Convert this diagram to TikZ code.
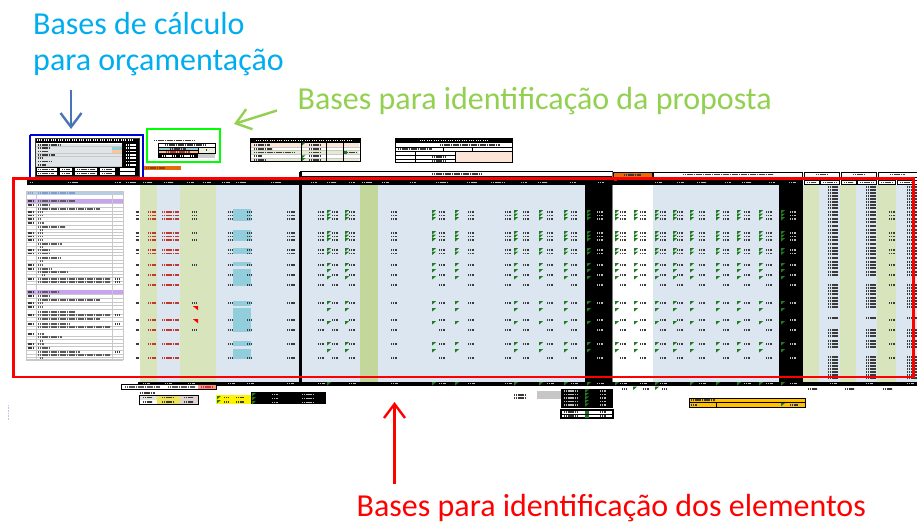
\documentclass[tikz,border=0pt]{standalone}
\usepackage{fontspec}
\setmainfont{Carlito}
\usetikzlibrary{arrows.meta}
\definecolor{tblue}{HTML}{00AEEF}
\definecolor{tgreen}{HTML}{92D050}
\definecolor{tred}{HTML}{FF0000}
\definecolor{ablue}{HTML}{4A74B8}
\definecolor{lgreen}{HTML}{D8E4BC}
\definecolor{dgreen}{HTML}{C4D79B}
\definecolor{lblue}{HTML}{DCE6F1}
\definecolor{cyanbox}{HTML}{92CDDC}
\definecolor{purp}{HTML}{C9A3F0}
\definecolor{hblue}{HTML}{B8CCE4}
\definecolor{peach}{HTML}{FCE4D6}
\definecolor{orng}{HTML}{E46C0A}
\definecolor{gold}{HTML}{FFC000}
\definecolor{mkc}{HTML}{3A3A3A}
\definecolor{txc}{HTML}{5A5A5A}
\definecolor{redmk}{HTML}{C0392B}
\definecolor{flagc}{HTML}{1E7B1E}
\definecolor{gridc}{HTML}{C8C8C8}
\definecolor{paleg}{HTML}{EBF1DE}
\definecolor{hdrmk}{HTML}{BBBBBB}
\begin{document}
\begin{tikzpicture}[x=1pt,y=-1pt,
  lbl/.style={anchor=base west,inner sep=0pt,font=\fontsize{32}{36}\selectfont},
  arr/.style={line width=2.4pt,-{Straight Barb[length=14pt,width=21pt]}},
  txt/.style={line width=1.7pt,dash pattern=on 1.3pt off 0.5pt},
  cell/.style={draw=black,line width=0.8pt},
  flagmark/.style={fill=flagc},
]
\useasboundingbox (0,0) rectangle (917,524);
\fill[white] (0,0) rectangle (917,524);

% ================= annotation labels =================
\node[lbl,text=tblue] (lcalc1) at (33,34.3) {Bases de cálculo};
\node[lbl,text=tblue] (lcalc2) at (33,70.7) {para orçamentação};
\node[lbl,text=tgreen] (lprop) at (297.5,110) {Bases para identificação da proposta};
\node[lbl,text=tred] (lelem) at (356.5,516.5) {Bases para identificação dos elementos};

% ================= small top tables =================
% budget base table (blue box)
\fill[white] (35,138) rectangle (139,176);
\fill[black] (35,138) rectangle (139,142.5);
\foreach \x in {37,44,...,132} \draw[txt,white] (\x,140.2) -- ++(5,0);
\foreach \y in {145,148.3,151.6,154.9,158.2,161.5,164.8} {
  \fill[lblue!80!gray!60] (36,\y-1.4) rectangle (122,\y+1.4);
  \draw[gridc,line width=0.4pt] (36,\y+1.6) -- (122,\y+1.6);
}
\foreach \y/\b in {145/60,148.3/50,151.6/48,154.9/55,158.2/42,161.5/52,164.8/46} \draw[txt,mkc] (38,\y) -- (\b,\y);
\fill[cyanbox] (112,147) rectangle (122,149.6);
\fill[peach!70!orange] (112,150.3) rectangle (122,152.9);
\fill[black] (122,142.5) rectangle (139,167);
\foreach \y in {145,148.3,151.6,154.9,158.2,161.5,164.8} \draw[txt,white] (126,\y) -- ++(10,0);
\fill[black] (35,167) rectangle (139,176);
\foreach \x/\w in {37/20,60/12,75/22,100/15,120/15} {\fill[white] (\x,168.2) rectangle ++(\w,2.6); \fill[white] (\x,172.2) rectangle ++(\w,2.6);}
\foreach \x/\w in {38/16,62/8,77/18,102/10} {\draw[txt,mkc] (\x,169.5) -- ++(\w,0); \draw[txt,mkc] (\x,173.5) -- ++(\w,0);}
\draw[mkc,line width=0.6pt] (35,138) rectangle (139,176);

% proposal identification table (green box)
\draw[txt,mkc] (154,140.5) -- (194,140.5);
\draw[cell,fill=white] (158,143) rectangle (215,147);
\draw[txt,mkc] (165,145) -- (205,145);
\draw[cell,fill=cyanbox] (158,147.5) rectangle (198,150.7);
\draw[txt,mkc] (170,149.1) -- (186,149.1);
\draw[cell,fill=peach!60!orange] (158,150.7) rectangle (198,153.5);
\draw[txt,redmk] (166,152.1) -- (190,152.1);
\draw[cell,fill=paleg] (198,147.5) rectangle (215,153.5);
\draw[txt,mkc] (206,150) -- ++(1.5,0);
\fill[black] (158,154) rectangle (198,158);
\draw[txt,white] (162,156) -- (175,156);
\draw[txt,white] (180,156) -- (194,156);
\fill[gray!40] (198,154) rectangle (215,158);

% cost table
\fill[white] (250,138.5) rectangle (360,161.5);
\fill[black] (250,138.5) rectangle (360,142.8);
\foreach \x in {256,263,...,352} \draw[txt,white] (\x,140.6) -- ++(5,0);
\fill[peach] (251,143) rectangle (359,146.8);
\fill[lgreen!70] (251,150.6) rectangle (359,154.4);
\fill[lgreen!70] (251,158) rectangle (359,161.5);
\foreach \y in {146.8,150.6,154.4,158} \draw[gridc,line width=0.5pt] (250,\y) -- (360,\y);
\foreach \x in {301,326,343} \draw[black,line width=0.8pt] (\x,142.8) -- (\x,161.5);
\foreach \y/\b in {145/270,148.7/272,152.5/295,156.2/262,159.8/266} \draw[txt,mkc] (254,\y) -- (\b,\y);
\foreach \y in {145,148.7,152.5,156.2,159.8} \draw[txt,mkc] (309,\y) -- ++(12,0);
\draw[txt,mkc] (345,152.5) -- ++(12,0);
\foreach \y in {144,156.8,159.5} \fill[flagmark] (302,\y-1.5) -- ++(3.5,0) -- ++(-3.5,3) -- cycle;
\fill[flagc] (344,151) rectangle ++(3,3);
\draw[black,line width=1pt] (250,138.5) rectangle (360,161.5);

% auxiliary data table
\fill[white] (395,138.5) rectangle (512,162.5);
\fill[black] (395,138.5) rectangle (512,142.8);
\foreach \x in {420,427,...,485} \draw[txt,white] (\x,140.6) -- ++(5,0);
\draw[txt,mkc] (440,145) -- (500,145);
\draw[black,line width=0.8pt] (395,147) -- (512,147);
\draw[txt,mkc] (398,149.3) -- (432,149.3);
\draw[black,line width=0.6pt] (443,147) -- (443,151.5);
\draw[black,line width=0.6pt] (472,147) -- (472,151.5);
\draw[black,line width=0.8pt] (395,151.5) -- (512,151.5);
\fill[peach] (455,151.5) rectangle (512,162.5);
\draw[black,line width=0.6pt] (455,151.5) -- (455,162.5);
\draw[black,line width=0.6pt] (395,155.5) -- (455,155.5);
\draw[black,line width=0.6pt] (395,159) -- (455,159);
\draw[black,line width=0.6pt] (415,151.5) -- (415,162.5);
\draw[txt,mkc] (432,157.3) -- (446,157.3);
\draw[txt,mkc] (432,160.8) -- (446,160.8);
\draw[black,line width=1pt] (395,138.5) rectangle (512,162.5);

% orange bar
\fill[orng] (143,166) rectangle (181,169.5);
\draw[txt,orng!60!black] (146,167.8) -- (165,167.8);

% ================= main sheet =================
% upper header bars
\draw[black,line width=1pt,fill=white] (300,171.5) rectangle (612,176.5);
\draw[txt,mkc] (432,174) -- (482,174);
\draw[black,line width=0.6pt,fill=orng] (613,172.5) rectangle (652,177);
\draw[txt,mkc] (624,174.8) -- (641,174.8);
\draw[black,line width=0.8pt,fill=white] (653,172) rectangle (802,177);
\draw[txt,mkc] (683,174.5) -- (773,174.5);
\foreach \a/\b in {804/839,841/876,878/917} {
  \draw[black,line width=0.8pt,fill=white] (\a,172) rectangle (\b,177);
  \draw[txt,mkc] (\a+12,174.5) -- (\b-12,174.5);
}

% column backgrounds
\fill[lgreen] (140,185) rectangle (157,381.5);
\fill[lblue] (157,185) rectangle (180,381.5);
\fill[lgreen] (180,185) rectangle (215.5,381.5);
\fill[lblue] (215.5,185) rectangle (299,381.5);
\fill[lblue] (302,185) rectangle (585,381.5);
\fill[dgreen] (360,185) rectangle (378,381.5);
\fill[black] (585,185) rectangle (613,381.5);
\fill[lblue] (653,185) rectangle (779,381.5);
\fill[black] (779,185) rectangle (803,381.5);
\fill[lgreen] (803,185) rectangle (819,381.5);
\fill[lblue] (819,185) rectangle (840,381.5);
\fill[lgreen] (840,185) rectangle (856,381.5);
\fill[lblue] (856,185) rectangle (877,381.5);
\fill[lgreen] (877,185) rectangle (896,381.5);
\fill[lblue] (896,185) rectangle (917,381.5);
\draw[gray,line width=0.8pt] (612.5,172) -- (612.5,386);
\fill[black] (299,171.5) rectangle (302,386);

% header row
\fill[black] (27,180) rectangle (803,184.7);
\foreach \x/\w in {30/3,68/10,115/6,126/10,143/9,164/9,187/7,203/8,222/8,236/10,271/10,311/6,327/9,349/6,362/10,382/7,410/6,436/12,467/10,491/13,521/6,538/9,570/6,598/6,655/7,677/7,697/9,725/6,742/9,769/6,789/7}
  \draw[txt,hdrmk] (\x,182.4) -- ++(\w,0);
\foreach \a/\b in {804/819,820/839,841/856,857/876,878/895,897/917} {
  \draw[black,line width=0.6pt,fill=white] (\a,180) rectangle (\b,184.7);
  \draw[txt,mkc] (\a+3,182.4) -- (\b-3,182.4);
}
\fill[red] (614,179) rectangle (617,181);

% left list table
\fill[white] (26,191) rectangle (123,359);
\fill[hblue] (26,191) rectangle (123,195);
\fill[purp] (26,199.3) rectangle (123,203);
\fill[purp] (26,290.3) rectangle (123,294);
\foreach \y/\a/\b/\n in {201/38/75/1, 205/38/50/1, 209/38/100/0, 212/38/42/1, 215.5/38/42/1, 219/38/41/1, 223/38/44/1, 227/38/65/0, 230/40/43/0, 233/38/42/1, 236.5/38/42/1, 240/38/42/1, 244/38/62/0, 247/40/43/0, 250/38/50/1, 253.5/38/50/1, 258/38/60/0, 261/40/43/0, 265/38/42/1, 269/38/52/1, 272/38/67/0, 275/42/45/0, 279/38/110/1, 282/38/110/0, 292/38/58/1, 296/38/50/1, 300/38/100/0, 303/38/42/1, 307/38/42/1, 312/38/75/0, 315/38/110/1, 319/38/100/0, 324/38/70/1, 327/38/110/0, 334/38/44/1, 337/38/62/0, 341/40/43/0, 344/38/44/1, 348/38/50/1, 352/38/80/0, 355/38/110/0, 358/40/43/0}
{
  \draw[txt,txc] (\a,\y) -- (\b,\y);
  \ifnum\n=1 \draw[txt,mkc] (27.5,\y) -- (34.5,\y); \fi
  \draw[gridc,line width=0.35pt] (26,\y+1.8) -- (123,\y+1.8);
}
\draw[txt,ablue!70] (38,193) -- (75,193);
\draw[txt,ablue!70] (28,193) -- (33,193);
\foreach \y in {279,282,315,324,352} \draw[txt,mkc] (115,\y) -- ++(4,0);
\draw[gridc,line width=0.6pt] (36,191) -- (36,359);
\draw[gridc,line width=0.6pt] (112.7,191) -- (112.7,359);
\draw[gridc,line width=0.8pt] (26,191) rectangle (123,359);

% data marks
\def\markrows{212,215.5,219,233,236.5,240,250,253.5,265,275,285,303,320,330,344,358}
\def\flagrows{212,215.5,219,233,236.5,240,250,253.5,265,271,278,303,310,323,344,351}
\def\numrows{187,190,193,196,199,202,205,208,212,215,219,222,226,230,233,237,240,244,248,251,254,258,262,265,268,272,275,285,288,291,294,298,301,304,307,318,330,333,336,341,344,347,357,360,363,366,369,372,375,378}

% cyan boxes
\foreach \a/\b in {209/221,230/240.5,248/254,262/266,269/286,300.5/305.5,307.5/331.5,341/345.5,348.5/359}
  \fill[cyanbox] (233,\a) rectangle (251,\b);

\foreach \y in \markrows {
  \draw[txt,mkc] (135.5,\y) -- ++(3,0);
  \draw[txt,redmk] (148,\y) -- ++(8,0);
  \draw[txt,redmk] (162,\y) -- ++(17,0);
  \draw[txt,mkc] (228,\y) -- ++(5,0);
  \draw[txt,mkc] (247,\y) -- ++(5,0);
  \draw[txt,mkc] (287,\y) -- ++(8,0);
  \foreach \x in {318,332,349,391,439,468,505,523,547,571,620,640,660,677,699,723,744,766}
    \draw[txt,mkc] (\x,\y) -- ++(6,0);
  \foreach \x in {597,790} \draw[txt,hdrmk] (\x,\y) -- ++(6,0);
  \draw[txt,mkc] (889,\y) -- ++(6,0);
}
\foreach \y in {212,215.5,219,233,240,265,303,330} \draw[txt,mkc] (192,\y) -- ++(5,0);
\foreach \y in {308,321} \fill[red] (193,\y-1.8) -- ++(5,0) -- ++(0,4) -- cycle;
\foreach \y in \flagrows {
  \foreach \x in {327,345,432,455,514,539,564,587,615,634,655,673,690,716,737,759,781}
    \fill[flagmark] (\x,\y-2) -- ++(4.2,0) -- ++(-4.2,3.6) -- cycle;
}
\foreach \y in \numrows {
  \draw[txt,mkc] (828,\y) -- ++(10,0);
  \draw[txt,mkc] (866,\y) -- ++(10,0);
  \draw[txt,mkc] (907,\y) -- ++(10,0);
}

% totals row
\fill[black] (138,381.5) rectangle (917,385.8);
\foreach \x in {143,165,188,228,247,287,318,349,391,439,468,505,547,571,597,620,640,660,699,744,766,790,830,866,907}
  \draw[txt,hdrmk] (\x,383.6) -- ++(7,0);
\foreach \x in {327,432,455,514,539,564,587,615,655,690,716,737,759,781}
  \fill[flagmark] (\x,382) -- ++(4.2,0) -- ++(-4.2,3.6) -- cycle;
\foreach \x/\w in {622/5,643/6,662/5,808/9,845/9,883/9}
  \draw[txt,mkc] (\x,388.8) -- ++(\w,0);
\foreach \x in {633,655} \fill[flagmark] (\x,386.5) -- ++(4.2,0) -- ++(-4.2,3.6) -- cycle;

% ================= small tables below =================
\draw[black,line width=1pt,fill=white] (121,384.5) rectangle (216,389);
\draw[txt,txc] (125,386.8) -- (160,386.8);
\draw[txt,txc] (168,386.8) -- (195,386.8);
\fill[red!25!pink] (198,385) rectangle (215.5,388.5);
\draw[txt,redmk] (201,386.8) -- (212,386.8);

\draw[txt,mkc] (140,393) -- (155,393);
\draw[black,line width=1pt] (139,395) rectangle (198,404);
\fill[lgreen!60!gray!40] (140,395.5) rectangle (157,399.5);
\fill[yellow!70!olive!60] (157,395.5) rectangle (180,399.5);
\fill[red!15!gray!30] (180,395.5) rectangle (197.5,399.5);
\fill[white] (140,400) rectangle (157,403.5);
\fill[yellow!70!olive!60] (157,400) rectangle (180,403.5);
\fill[red!15!gray!30] (180,400) rectangle (197.5,403.5);
\foreach \x/\w in {143/9,162/12,184/9} {\draw[txt,mkc] (\x,397.5) -- ++(\w,0); \draw[txt,mkc] (\x,401.8) -- ++(\w,0);}

\fill[yellow] (216,394.5) rectangle (251,404);
\foreach \y in {396,400} \fill[flagmark] (217,\y) -- ++(4,0) -- ++(-4,3.4) -- cycle;
\foreach \y in {397.5,401.8} {\draw[txt,mkc] (224,\y) -- ++(5,0); \draw[txt,mkc] (236,\y) -- ++(8,0);}
\fill[black] (251,392) rectangle (326,404);
\foreach \y in {393,397,401} {\fill[flagmark] (252,\y) -- ++(4,0) -- ++(-4,3.4) -- cycle; \draw[txt,hdrmk] (272,\y+1.5) -- ++(6,0); \draw[txt,hdrmk] (302,\y+1.5) -- ++(12,0);}

\foreach \y in {395,398} \draw[txt,mkc] (514,\y) -- (525,\y);
\fill[gray!45] (537,391) rectangle (561,399);
\fill[black] (561,389) rectangle (613,408);
\foreach \y in {391,394.5,398,401.5,405} {\draw[txt,hdrmk] (564,\y) -- ++(14,0); \fill[flagmark] (585,\y-1.6) -- ++(4,0) -- ++(-4,3.4) -- cycle; \draw[txt,hdrmk] (600,\y) -- ++(6,0);}
\draw[black,line width=1.2pt,fill=white] (561,410) rectangle (613,418);
\fill[flagc] (585,410.5) rectangle (589,417.5);
\draw[black,line width=0.5pt] (561,414) -- (613,414);
\foreach \y in {412,416} {\draw[txt,mkc] (564,\y) -- ++(14,0); \draw[txt,mkc] (600,\y) -- ++(6,0);}

\draw[black,line width=1pt,fill=gold] (689,398) rectangle (805,407);
\draw[black,line width=0.5pt] (689,402.5) -- (805,402.5);
\draw[black,line width=0.5pt] (716,402.5) -- (716,407);
\draw[txt,mkc] (691,400.2) -- (715,400.2);
\draw[txt,mkc] (691,404.8) -- (697,404.8);
\fill[flagmark] (781,403) -- ++(4,0) -- ++(-4,3.4) -- cycle;
\draw[txt,mkc] (790,404.8) -- ++(8,0);

\draw[ablue!40,line width=0.8pt,dash pattern=on 1pt off 0.6pt] (8.5,405) -- (8.5,421);

% ================= highlight frames =================
\draw[blue!85!black,line width=2pt] (30,135) -- (30,178) (142.5,178) -- (142.5,135) -- (30,135);
\draw[green,line width=2pt] (146.5,129) rectangle (220,161.5);
\draw[red,line width=2.8pt] (13.5,178.5) rectangle (913.5,377);

% ================= arrows =================
\coordinate (ablues) at (71,90);
\coordinate (abluee) at (71,129);
\coordinate (agreens) at (277,110.5);
\coordinate (agreene) at (234,124);
\coordinate (areds) at (394.5,484);
\coordinate (arede) at (394.5,402);
\draw[arr,ablue] (ablues) -- (abluee);
\draw[arr,tgreen] (agreens) -- (agreene);
\draw[arr,tred] (areds) -- (arede);
\end{tikzpicture}
\end{document}
